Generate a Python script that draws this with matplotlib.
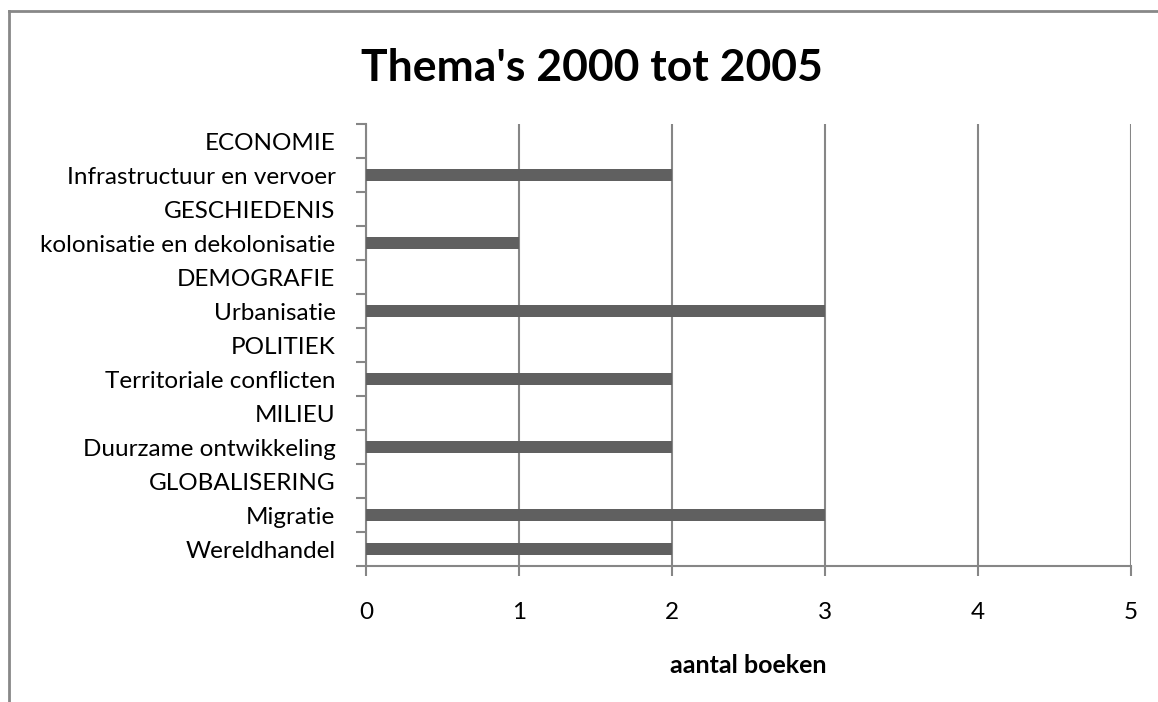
import matplotlib
matplotlib.use("Agg")
import matplotlib.pyplot as plt
from matplotlib.lines import Line2D
import numpy as np

categories = ["Wereldhandel", "Migratie", "GLOBALISERING", "Duurzame ontwikkeling",
              "MILIEU", "Territoriale conflicten", "POLITIEK", "Urbanisatie",
              "DEMOGRAFIE", "kolonisatie en dekolonisatie", "GESCHIEDENIS",
              "Infrastructuur en vervoer", "ECONOMIE"]
values = [2, 3, 0, 2, 0, 2, 0, 3, 0, 1, 0, 2, 0]
x_ticks = [0, 1, 2, 3, 4, 5]
title = "Thema's 2000 tot 2005"
xlabel = "aantal boeken"

plt.rcParams['font.family'] = ['Lato', 'DejaVu Sans']
grey = "#868686"

fig = plt.figure(figsize=(11.58, 7.02), dpi=100)
ax = fig.add_axes([366/1158, 1-566/702, (1131-366)/1158, (566-124)/702])

y = np.arange(len(categories))
ax.barh(y, values, height=0.38, color="#606060", zorder=3)
ax.set_ylim(-0.5, len(categories)-0.5)
ax.set_xlim(0, 5)
ax.set_xticks(x_ticks)
ax.set_xticklabels([str(t) for t in x_ticks], fontsize=17.5)
ax.set_yticks(y)
ax.set_yticklabels(categories, fontsize=17.5)
ax.tick_params(axis='y', which='major', length=0, pad=22)
ax.set_yticks(np.arange(-0.5, len(categories), 1), minor=True)
ax.tick_params(axis='y', which='minor', length=7, width=1.5, color=grey, direction='out')
ax.tick_params(axis='x', which='major', length=7, width=1.5, color=grey, direction='out', pad=19)
ax.xaxis.grid(True, color=grey, linewidth=1.5, zorder=0)
for s in ["top", "right"]:
    ax.spines[s].set_visible(False)
for s in ["left", "bottom"]:
    ax.spines[s].set_color(grey)
    ax.spines[s].set_linewidth(1.5)
ax.set_xlabel(xlabel, fontsize=18, fontweight='bold', labelpad=22)

fig.text(592/1158, 1-68/702, title, fontsize=32, fontweight='bold', ha='center', va='center')

# outer chart border (left and top visible)
fig.add_artist(Line2D([9/1158, 9/1158], [0, 1-11/702], transform=fig.transFigure, color="#888888", linewidth=2))
fig.add_artist(Line2D([9/1158, 1], [1-11/702, 1-11/702], transform=fig.transFigure, color="#888888", linewidth=2))

fig.savefig("out.png", dpi=100)
